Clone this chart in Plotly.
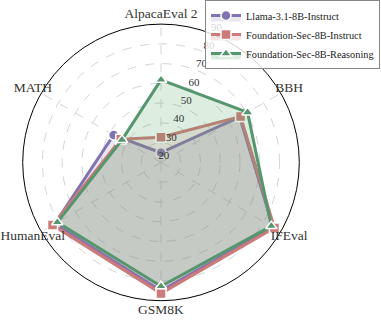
import plotly.graph_objects as go

# benchmark axes, clockwise from the top
categories = ["AlpacaEval 2", "BBH", "IFEval", "GSM8K", "HumanEval", "MATH"]

# scores
llama = [24.9, 66.0, 85.5, 85.0, 82.0, 47.7]
fs_instruct = [32.7, 66.5, 86.3, 86.3, 83.4, 43.5]
fs_reasoning = [61.8, 70.6, 84.5, 82.7, 80.6, 42.8]

names = ["Llama-3.1-8B-Instruct", "Foundation-Sec-8B-Instruct", "Foundation-Sec-8B-Reasoning"]
colors = ["#8172B3", "#CD7A7A", "#55966E"]
fills = ["rgba(129,114,179,0.18)", "rgba(200,120,120,0.18)", "rgba(85,168,104,0.2)"]
symbols = ["circle", "square", "triangle-up"]

radial_ticks = [20, 30, 40, 50, 60, 70, 80, 90]
rlabel_angle = 22.5   # radial labels, degrees clockwise from the top
rlabel_pad = 3.5      # labels sit a bit outside their grid circle

FONT = "Liberation Serif"
W, H = 381, 320

fig = go.Figure()

for name, vals, col, fc, sym in zip(names, [llama, fs_instruct, fs_reasoning], colors, fills, symbols):
    fig.add_trace(go.Scatterpolar(
        r=vals + vals[:1],
        theta=categories + categories[:1],
        name=name,
        mode="lines+markers",
        line=dict(color=col, width=3),
        marker=dict(symbol=sym, size=10, color=col, line=dict(color="white", width=1.5)),
        fill="toself",
        fillcolor=fc,
    ))

# category names centred a little outside the rim (second, invisible polar)
fig.add_trace(go.Scatterpolar(
    r=[148] * len(categories),
    theta=categories,
    mode="text",
    text=categories,
    textfont=dict(family=FONT, size=13.5, color="#333333"),
    textposition="middle center",
    showlegend=False,
    hoverinfo="skip",
    subplot="polar2",
))

# radial tick labels, horizontal, along one ray (third, invisible polar)
fig.add_trace(go.Scatterpolar(
    r=[t + rlabel_pad for t in radial_ticks],
    theta=[rlabel_angle] * len(radial_ticks),
    mode="text",
    text=[str(t) for t in radial_ticks],
    textfont=dict(family=FONT, size=11, color="#333333"),
    textposition="middle center",
    showlegend=False,
    hoverinfo="skip",
    subplot="polar3",
))

# circle centre at (161, 162.4) px, rim radius 138.3 px
cx, cy, rr = 161, H - 162.4, 138.3
r2 = 157
r_lo, r_hi, r3_hi = 20, 90, 99
r3 = rr * (r3_hi - r_lo) / (r_hi - r_lo)


def dom(rad):
    return dict(x=[(cx - rad) / W, (cx + rad) / W], y=[(cy - rad) / H, (cy + rad) / H])


fig.update_layout(
    width=W,
    height=H,
    margin=dict(l=0, r=0, t=0, b=0, autoexpand=False),
    paper_bgcolor="white",
    font=dict(family=FONT, color="#333333"),
    polar=dict(
        domain=dom(rr),
        bgcolor="rgba(0,0,0,0)",
        angularaxis=dict(
            rotation=90,
            direction="clockwise",
            showticklabels=False,
            ticks="",
            showline=True,
            linecolor="black",
            linewidth=1,
            gridcolor="#d4d4d4",
            griddash="dash",
        ),
        radialaxis=dict(
            range=[r_lo, r_hi],
            tickvals=radial_ticks,
            showticklabels=False,
            showline=False,
            ticks="",
            gridcolor="#d4d4d4",
            griddash="dash",
        ),
    ),
    polar2=dict(
        domain=dom(r2),
        bgcolor="rgba(0,0,0,0)",
        angularaxis=dict(categoryarray=categories, rotation=90, direction="clockwise", visible=False),
        radialaxis=dict(range=[0, r2], visible=False),
    ),
    polar3=dict(
        domain=dom(r3),
        bgcolor="rgba(0,0,0,0)",
        angularaxis=dict(rotation=90, direction="clockwise", visible=False),
        radialaxis=dict(range=[r_lo, r3_hi], visible=False),
    ),
    legend=dict(
        x=205 / W,
        y=1.0,
        xanchor="left",
        yanchor="top",
        bgcolor="rgba(255,255,255,0.8)",
        bordercolor="#888888",
        borderwidth=1,
        font=dict(family=FONT, size=10.3, color="#222222"),
        tracegroupgap=0,
        itemwidth=30,
    ),
)

fig.write_html(
    "out.html",
    config={"displayModeBar": False},
    post_script="document.body.style.margin='0px';",
)
